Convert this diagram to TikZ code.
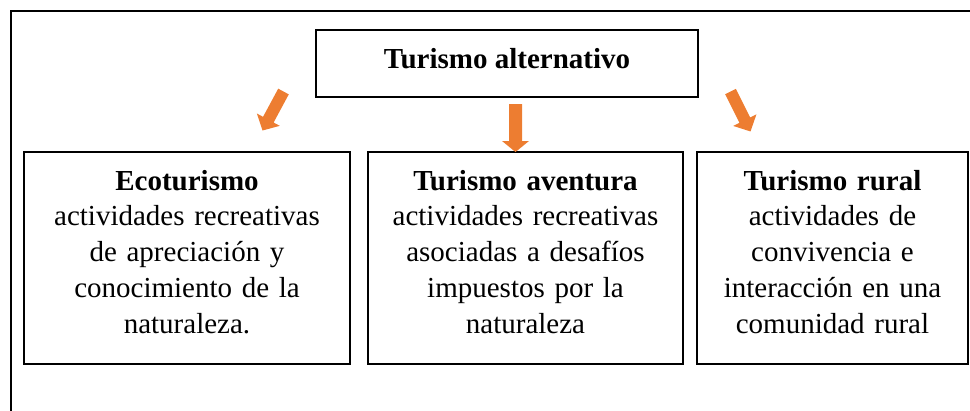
\documentclass[tikz,border=0pt]{standalone}
\usepackage{fontspec}
\setmainfont{Liberation Serif}
\definecolor{arrorange}{HTML}{ED7D31}
\begin{document}
\begin{tikzpicture}[x=1pt,y=-1pt,
  boxst/.style={draw=black, line width=1.6pt, rectangle, inner sep=0pt},
  txtst/.style={anchor=base, align=center, inner sep=0pt, font=\fontsize{29}{35.7}\selectfont},
  arrst/.style={fill=arrorange, draw=none}]
\useasboundingbox (0,0) rectangle (970,410);
% outer frame (partial)
\draw[line width=1.5pt] (11,412) -- (11,11) -- (972,11);
% top box
\node[boxst, minimum width=382pt, minimum height=67pt, text height=20pt, text depth=11pt,
      font=\fontsize{29}{35.7}\selectfont\bfseries] (top) at (507,63.5) {Turismo alternativo};
% lower boxes
\node[boxst, minimum width=326pt, minimum height=212pt] (l) at (187,258) {};
\node[boxst, minimum width=315pt, minimum height=212pt] (m) at (525.5,258) {};
\node[boxst, minimum width=271pt, minimum height=212pt] (r) at (832.5,258) {};
\node[txtst, text width=326pt] (lt) at ([yshift=-39pt]l.north)
  {\textbf{Ecoturismo}\\actividades recreativas\\de apreciación y\\conocimiento de la\\naturaleza.};
\node[txtst, text width=315pt] (mt) at ([yshift=-39pt]m.north)
  {\textbf{Turismo aventura}\\actividades recreativas\\asociadas a desafíos\\impuestos por la\\naturaleza};
\node[txtst, text width=271pt] (rt) at ([yshift=-39pt]r.north)
  {\textbf{Turismo rural}\\actividades de\\convivencia e\\interacción en una\\comunidad rural};
% block arrows
\fill[arrst, shift={(283.5,91.5)}, rotate=241.7]
  (0,-6) -- (32,-6) -- (32,-13) -- (44.3,0) -- (32,13) -- (32,6) -- (0,6) -- cycle;
\fill[arrst, shift={(515.5,104)}, rotate=-90]
  (0,-6.5) -- (37,-6.5) -- (37,-13.5) -- (48,0) -- (37,13.5) -- (37,6.5) -- (0,6.5) -- cycle;
\fill[arrst, shift={(730.5,91.5)}, rotate=296.6]
  (0,-6) -- (32,-6) -- (32,-13) -- (44.7,0) -- (32,13) -- (32,6) -- (0,6) -- cycle;
\end{tikzpicture}
\end{document}
